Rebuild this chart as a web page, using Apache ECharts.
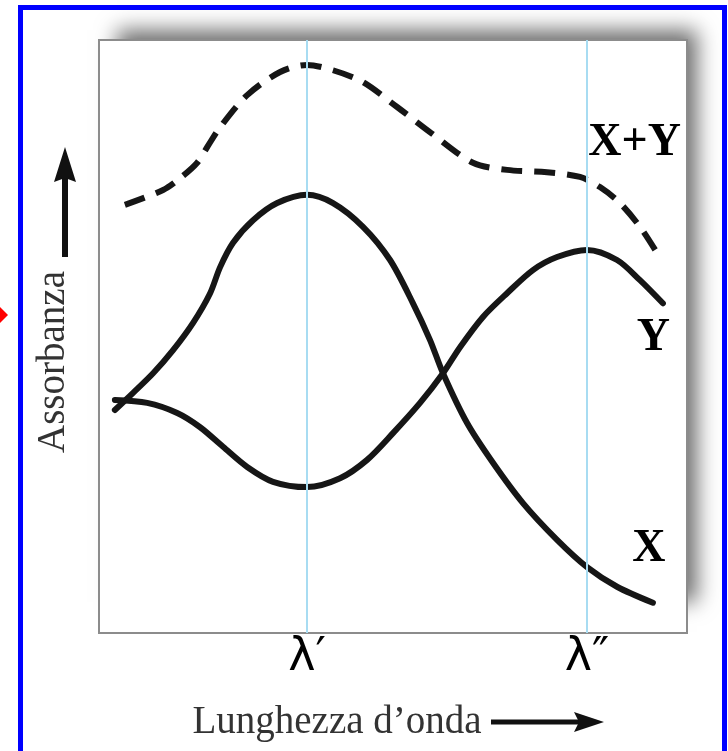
<!DOCTYPE html>
<html>
<head>
<meta charset="utf-8">
<style>
html,body{margin:0;padding:0;background:#ffffff;}
#chart{width:728px;height:751px;}
</style>
<script src="https://cdn.jsdelivr.net/npm/echarts@6/dist/echarts.min.js"></script>
</head>
<body>
<div id="chart"></div>
<script>
// ---- data (wavelength in arbitrary units 0-100, absorbance 0-100) ----
const seriesNames = ['X', 'Y', 'X+Y'];

const wavelengthX = [2.7, 5.8, 9.2, 12.6, 16.0, 18.9, 20.6, 22.8, 26.2, 30.3, 35.4, 39.8, 44.9, 49.5, 53.4, 56.3, 58.5, 62.6, 67.0, 72.1, 77.9, 83.0, 88.1, 94.2];
const absorbX     = [37.6, 40.5, 43.8, 47.7, 52.3, 57.3, 61.7, 65.8, 69.6, 72.5, 73.9, 72.5, 68.5, 62.9, 55.6, 49.4, 43.8, 35.4, 28.7, 21.9, 15.7, 11.1, 7.8, 5.1];

const wavelengthY = [2.7, 8.2, 13.3, 17.2, 21.1, 25.2, 29.6, 35.4, 41.0, 45.6, 50.0, 54.6, 58.5, 61.4, 65.3, 69.4, 73.8, 77.9, 83.0, 88.1, 92.0, 95.9];
const absorbY     = [39.3, 38.8, 37.1, 34.7, 31.4, 28.0, 25.5, 24.6, 26.1, 29.2, 33.7, 38.8, 43.8, 48.2, 53.3, 57.3, 61.2, 63.4, 64.6, 62.9, 59.5, 55.6];

const wavelengthSum = [4.4, 10.9, 13.8, 16.7, 18.5, 20.6, 25.2, 30.8, 35.4, 39.8, 44.9, 50.7, 56.5, 63.6, 69.4, 76.2, 81.8, 85.2, 88.6, 92.0, 94.9];
const absorbSum     = [72.2, 74.7, 76.7, 79.3, 82.1, 85.3, 90.7, 94.6, 95.8, 94.9, 92.9, 88.7, 84.3, 79.3, 78.1, 77.7, 76.9, 75.2, 72.5, 68.5, 64.1];

const tickValues = [35.4, 83.0];
const tickLabels = ['λ′', 'λ″'];

const xAxisTitle = 'Lunghezza d’onda';
const yAxisTitle = 'Assorbanza';

// label anchors (wavelength, absorbance) for the curve names
const nameAnchorX   = [93.5, 14.2];
const nameAnchorY   = [94.3, 49.8];
const nameAnchorSum = [91.1, 82.6];

function pairs(xs, ys) { return xs.map((x, i) => [x, ys[i]]); }

const curveColor = '#161616';
const nameLabel = (txt) => ({
  show: true, position: 'inside', formatter: txt,
  fontFamily: '"Liberation Serif", "DejaVu Serif", serif',
  fontWeight: 'bold', fontSize: 46, color: '#000'
});

const chart = echarts.init(document.getElementById('chart'), null, {renderer: 'canvas'});
chart.setOption({
  animation: false,
  backgroundColor: '#ffffff',
  grid: {
    show: true, left: 99, top: 40, width: 588, height: 593,
    backgroundColor: '#ffffff', borderColor: '#8c8c8c', borderWidth: 2
  },
  xAxis: {
    type: 'value', min: 0, max: 100,
    axisLine: {show: false}, axisTick: {show: false}, splitLine: {show: false},
    axisLabel: {
      customValues: tickValues,
      formatter: (v) => { const i = tickValues.indexOf(v); return i >= 0 ? tickLabels[i] : ''; },
      margin: 2, fontSize: 46, color: '#000', fontFamily: '"DejaVu Sans", sans-serif'
    },
    name: xAxisTitle, nameLocation: 'middle', nameGap: 70,
    nameTextStyle: {
      fontFamily: '"Liberation Serif", "DejaVu Serif", serif', fontSize: 39, color: '#333',
      padding: [0, 112, 0, 0]
    }
  },
  yAxis: {
    type: 'value', min: 0, max: 100, show: false
  },
  series: [
    {
      type: 'line', name: 'guides', data: [], z: 1, silent: true,
      markLine: {
        silent: true, symbol: ['none', 'none'], label: {show: false},
        lineStyle: {color: '#a8dcf2', width: 2, type: 'solid'},
        data: tickValues.map(v => ({xAxis: v}))
      }
    },
    {
      type: 'line', name: seriesNames[0], data: pairs(wavelengthX, absorbX), z: 3,
      smooth: 0.3, showSymbol: false, symbol: 'none',
      lineStyle: {color: curveColor, width: 6, cap: 'round'},
      markPoint: {symbol: 'circle', symbolSize: 0, data: [{coord: nameAnchorX}], label: nameLabel(seriesNames[0])}
    },
    {
      type: 'line', name: seriesNames[1], data: pairs(wavelengthY, absorbY), z: 3,
      smooth: 0.3, showSymbol: false, symbol: 'none',
      lineStyle: {color: curveColor, width: 6, cap: 'round'},
      markPoint: {symbol: 'circle', symbolSize: 0, data: [{coord: nameAnchorY}], label: nameLabel(seriesNames[1])}
    },
    {
      type: 'line', name: seriesNames[2], data: pairs(wavelengthSum, absorbSum), z: 3,
      smooth: 0.3, showSymbol: false, symbol: 'none',
      lineStyle: {color: curveColor, width: 6, type: [21, 12], cap: 'butt'},
      markPoint: {symbol: 'circle', symbolSize: 0, data: [{coord: nameAnchorSum}], label: nameLabel(seriesNames[2])}
    }
  ],
  graphic: [
    {type: 'rect', z: -10, shape: {x: 117 - 2000, y: 30, width: 580, height: 572},
     style: {fill: '#6e6e6e', shadowBlur: 20, shadowColor: '#6e6e6e', shadowOffsetX: 2000}, silent: true},
    {type: 'rect', shape: {x: 20.5, y: 7.5, width: 704, height: 800}, style: {fill: 'none', stroke: '#0000ff', lineWidth: 5}, silent: true},
    {type: 'polygon', shape: {points: [[0, 307], [8, 315], [0, 323]]}, style: {fill: '#ff0000'}, silent: true},
    {type: 'line', shape: {x1: 65, y1: 257, x2: 65, y2: 176}, style: {stroke: '#111', lineWidth: 6}, silent: true},
    {type: 'polygon', shape: {points: [[65, 147], [54, 182], [65, 178], [76, 182]]}, style: {fill: '#111'}, silent: true},
    {type: 'line', shape: {x1: 491, y1: 722, x2: 582, y2: 722}, style: {stroke: '#111', lineWidth: 5}, silent: true},
    {type: 'polygon', shape: {points: [[604, 722], [574, 712], [579, 722], [574, 732]]}, style: {fill: '#111'}, silent: true},
    {type: 'text', x: 54, y: 362, rotation: Math.PI / 2,
     style: {text: yAxisTitle, font: '39px "Liberation Serif", "DejaVu Serif", serif', fill: '#333', align: 'center', verticalAlign: 'middle'},
     silent: true}
  ]
});
</script>
</body>
</html>
